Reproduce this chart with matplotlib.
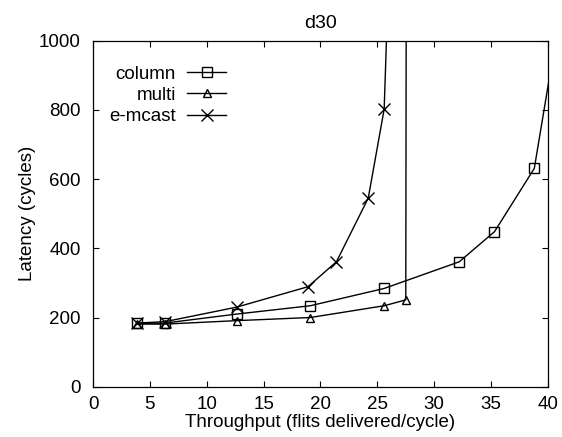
import matplotlib.pyplot as plt
from matplotlib.legend_handler import HandlerLine2D

plt.rcParams["font.family"] = ["Liberation Sans", "DejaVu Sans"]

# throughput (flits delivered/cycle) and latency (cycles) per scheme
column_x = [3.84, 6.33, 12.63, 19.1, 25.6, 32.2, 35.3, 38.8, 41.0]
column_y = [183, 184, 210, 234, 284, 361, 448, 631, 1065]

multi_x = [3.84, 6.33, 12.63, 19.1, 25.6, 27.5, 27.6]
multi_y = [181, 181, 191, 200, 234, 251, 2500]

emcast_x = [3.84, 6.33, 12.63, 18.9, 21.4, 24.2, 25.6, 26.0]
emcast_y = [184, 188, 230, 289, 361, 545, 802, 1200]

x_ticks = [0, 5, 10, 15, 20, 25, 30, 35, 40]
y_ticks = [0, 200, 400, 600, 800, 1000]

FS = 13.5


class LeftMarker(HandlerLine2D):
    # put the legend marker near the left end of the sample line
    def get_xdata(self, legend, xdescent, ydescent, width, height, fontsize):
        xdata, _ = super().get_xdata(legend, xdescent, ydescent, width, height, fontsize)
        return xdata, [0.25 * width - xdescent]


fig = plt.figure(figsize=(5.62, 4.37), dpi=100)
ax = fig.add_axes([0.1655, 0.115, 0.8095, 0.792])

style = dict(color="black", linewidth=1.0, markerfacecolor="none",
             markeredgecolor="black", markeredgewidth=1.0)
ax.plot(column_x, column_y, marker="s", markersize=7, label="column", **style)
ax.plot(multi_x, multi_y, marker="^", markersize=6, label="multi", **style)
ax.plot(emcast_x, emcast_y, marker="x", markersize=8, label="e-mcast", **style)

ax.set_xlim(0, 40)
ax.set_ylim(0, 1000)
ax.set_xticks(x_ticks)
ax.set_yticks(y_ticks)
ax.tick_params(direction="in", top=True, right=True, length=4, width=0.8,
               labelsize=FS, pad=9)
ax.tick_params(axis="x", pad=7)
for s in ax.spines.values():
    s.set_linewidth(0.9)

ax.set_xlabel("Throughput (flits delivered/cycle)", fontsize=FS, labelpad=0.5)
ax.set_ylabel("Latency (cycles)", fontsize=FS, labelpad=2)
ax.set_title("d30", fontsize=14, pad=9)

handler = LeftMarker(numpoints=1)
ax.legend(loc="upper left", bbox_to_anchor=(0.015, 0.955), frameon=False,
          markerfirst=False, fontsize=FS, borderpad=0, handlelength=2.1,
          handletextpad=0.6, labelspacing=0.22,
          handler_map={l: handler for l in ax.get_lines()})

fig.savefig("out.png", dpi=100)
